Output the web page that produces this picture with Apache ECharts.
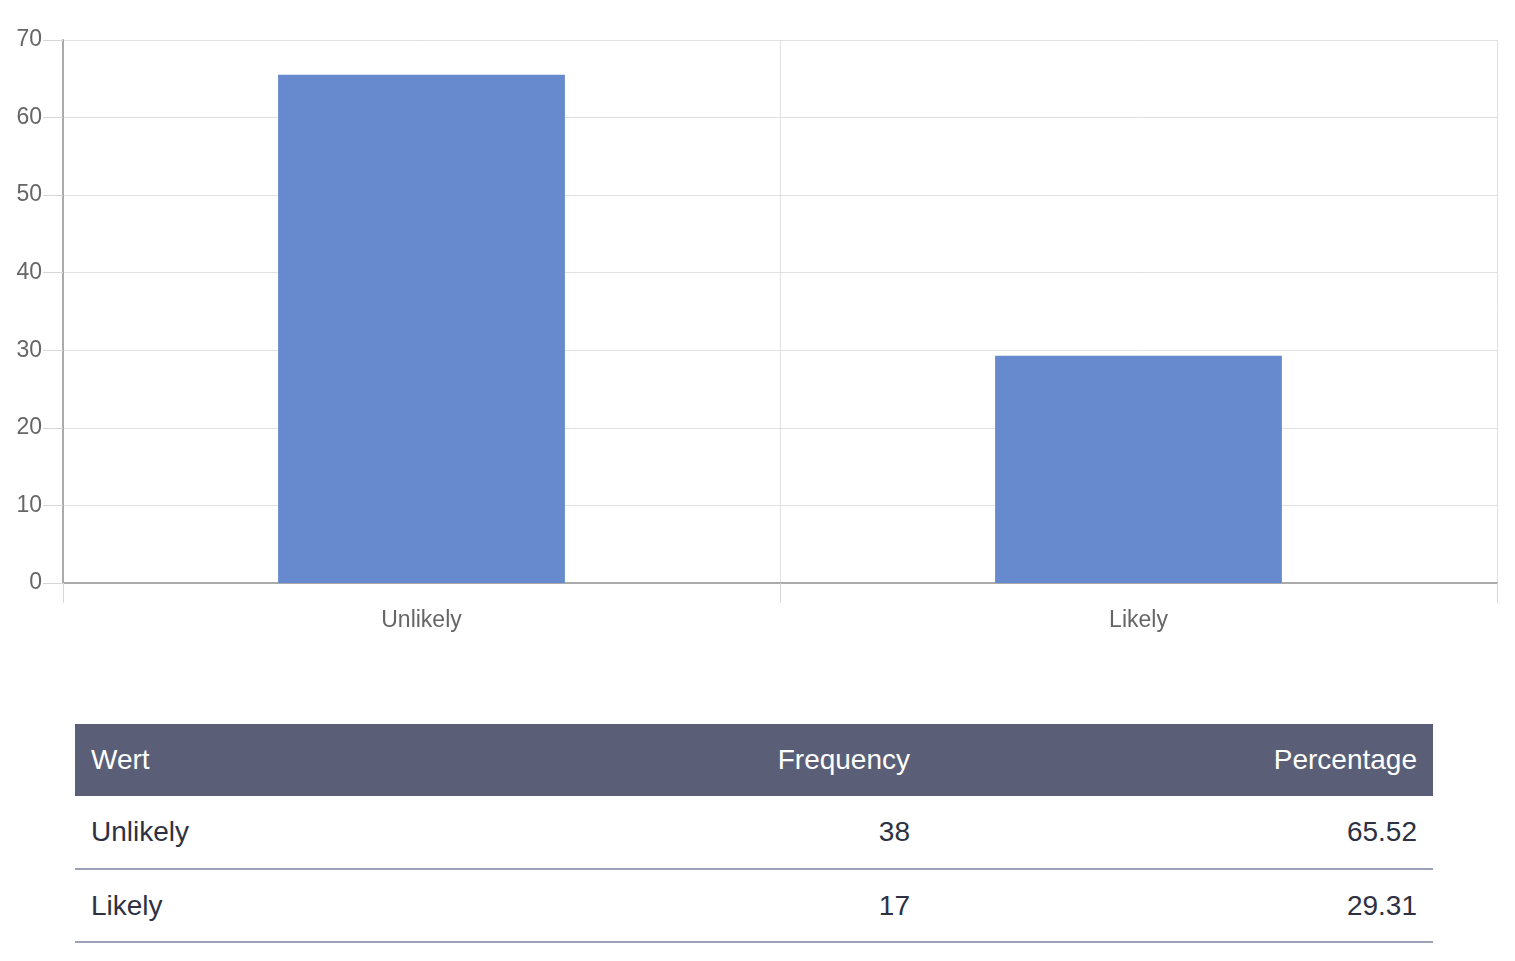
<!DOCTYPE html>
<html>
<head>
<meta charset="utf-8">
<script src="https://cdn.jsdelivr.net/npm/echarts@6/dist/echarts.min.js"></script>
<style>
  html, body { margin: 0; padding: 0; background: #fff; font-family: "Liberation Sans", Arial, sans-serif; }
  #chart { position: absolute; left: 0; top: 0; width: 1515px; height: 660px; }
  #tbl { position: absolute; left: 75px; top: 724px; width: 1358px; border-collapse: collapse; font-size: 28px; }
  #tbl th { background: #5a5f77; color: #fff; font-weight: normal; height: 72px; padding: 0 16px; box-sizing: border-box; }
  #tbl td { color: #2e3142; height: 73px; padding: 0 16px; border-bottom: 2px solid #9ba1b6; box-sizing: border-box; }
  .l { text-align: left; }
  .r { text-align: right; }
</style>
</head>
<body>
<div id="chart"></div>
<table id="tbl"><thead></thead><tbody></tbody></table>
<script>
const categories = ["Unlikely", "Likely"];
const percentages = [65.52, 29.31];
const frequencies = [38, 17];
const tableHeaders = ["Wert", "Frequency", "Percentage"];

const chart = echarts.init(document.getElementById('chart'));
chart.setOption({
  animation: false,
  grid: { left: 63, right: 18, top: 40, bottom: 77, containLabel: false },
  xAxis: {
    type: 'category',
    data: categories,
    axisLine: { show: true, lineStyle: { color: '#aaaaaa', width: 2 } },
    axisTick: { show: true, length: 20, lineStyle: { color: '#d6d6d6' } },
    splitLine: { show: true, lineStyle: { color: '#e0e0e0' } },
    axisLabel: { color: '#666666', fontSize: 23, margin: 26, fontFamily: 'Liberation Sans' }
  },
  yAxis: {
    type: 'value',
    min: 0, max: 70, interval: 10,
    axisLine: { show: true, lineStyle: { color: '#aaaaaa', width: 2 } },
    axisTick: { show: true, length: 20, lineStyle: { color: '#d6d6d6' } },
    splitLine: { show: true, lineStyle: { color: '#e0e0e0' } },
    axisLabel: { color: '#666666', fontSize: 23, margin: 21, fontFamily: 'Liberation Sans', padding: [8, 0, 0, 0] }
  },
  series: [{
    type: 'bar',
    data: percentages,
    barWidth: '40%',
    itemStyle: { color: '#6789ce' }
  }]
});

const thead = document.querySelector('#tbl thead');
const tbody = document.querySelector('#tbl tbody');
const widths = ['', '', '507px'];
const aligns = ['l', 'r', 'r'];
let hr = '<tr>';
tableHeaders.forEach((h, i) => { hr += `<th class="${aligns[i]}"${widths[i] ? ` style="width:${widths[i]}"` : ''}>${h}</th>`; });
thead.innerHTML = hr + '</tr>';
let rows = '';
categories.forEach((c, i) => {
  rows += `<tr><td class="l">${c}</td><td class="r">${frequencies[i]}</td><td class="r">${percentages[i].toFixed(2)}</td></tr>`;
});
tbody.innerHTML = rows;
</script>
</body>
</html>
